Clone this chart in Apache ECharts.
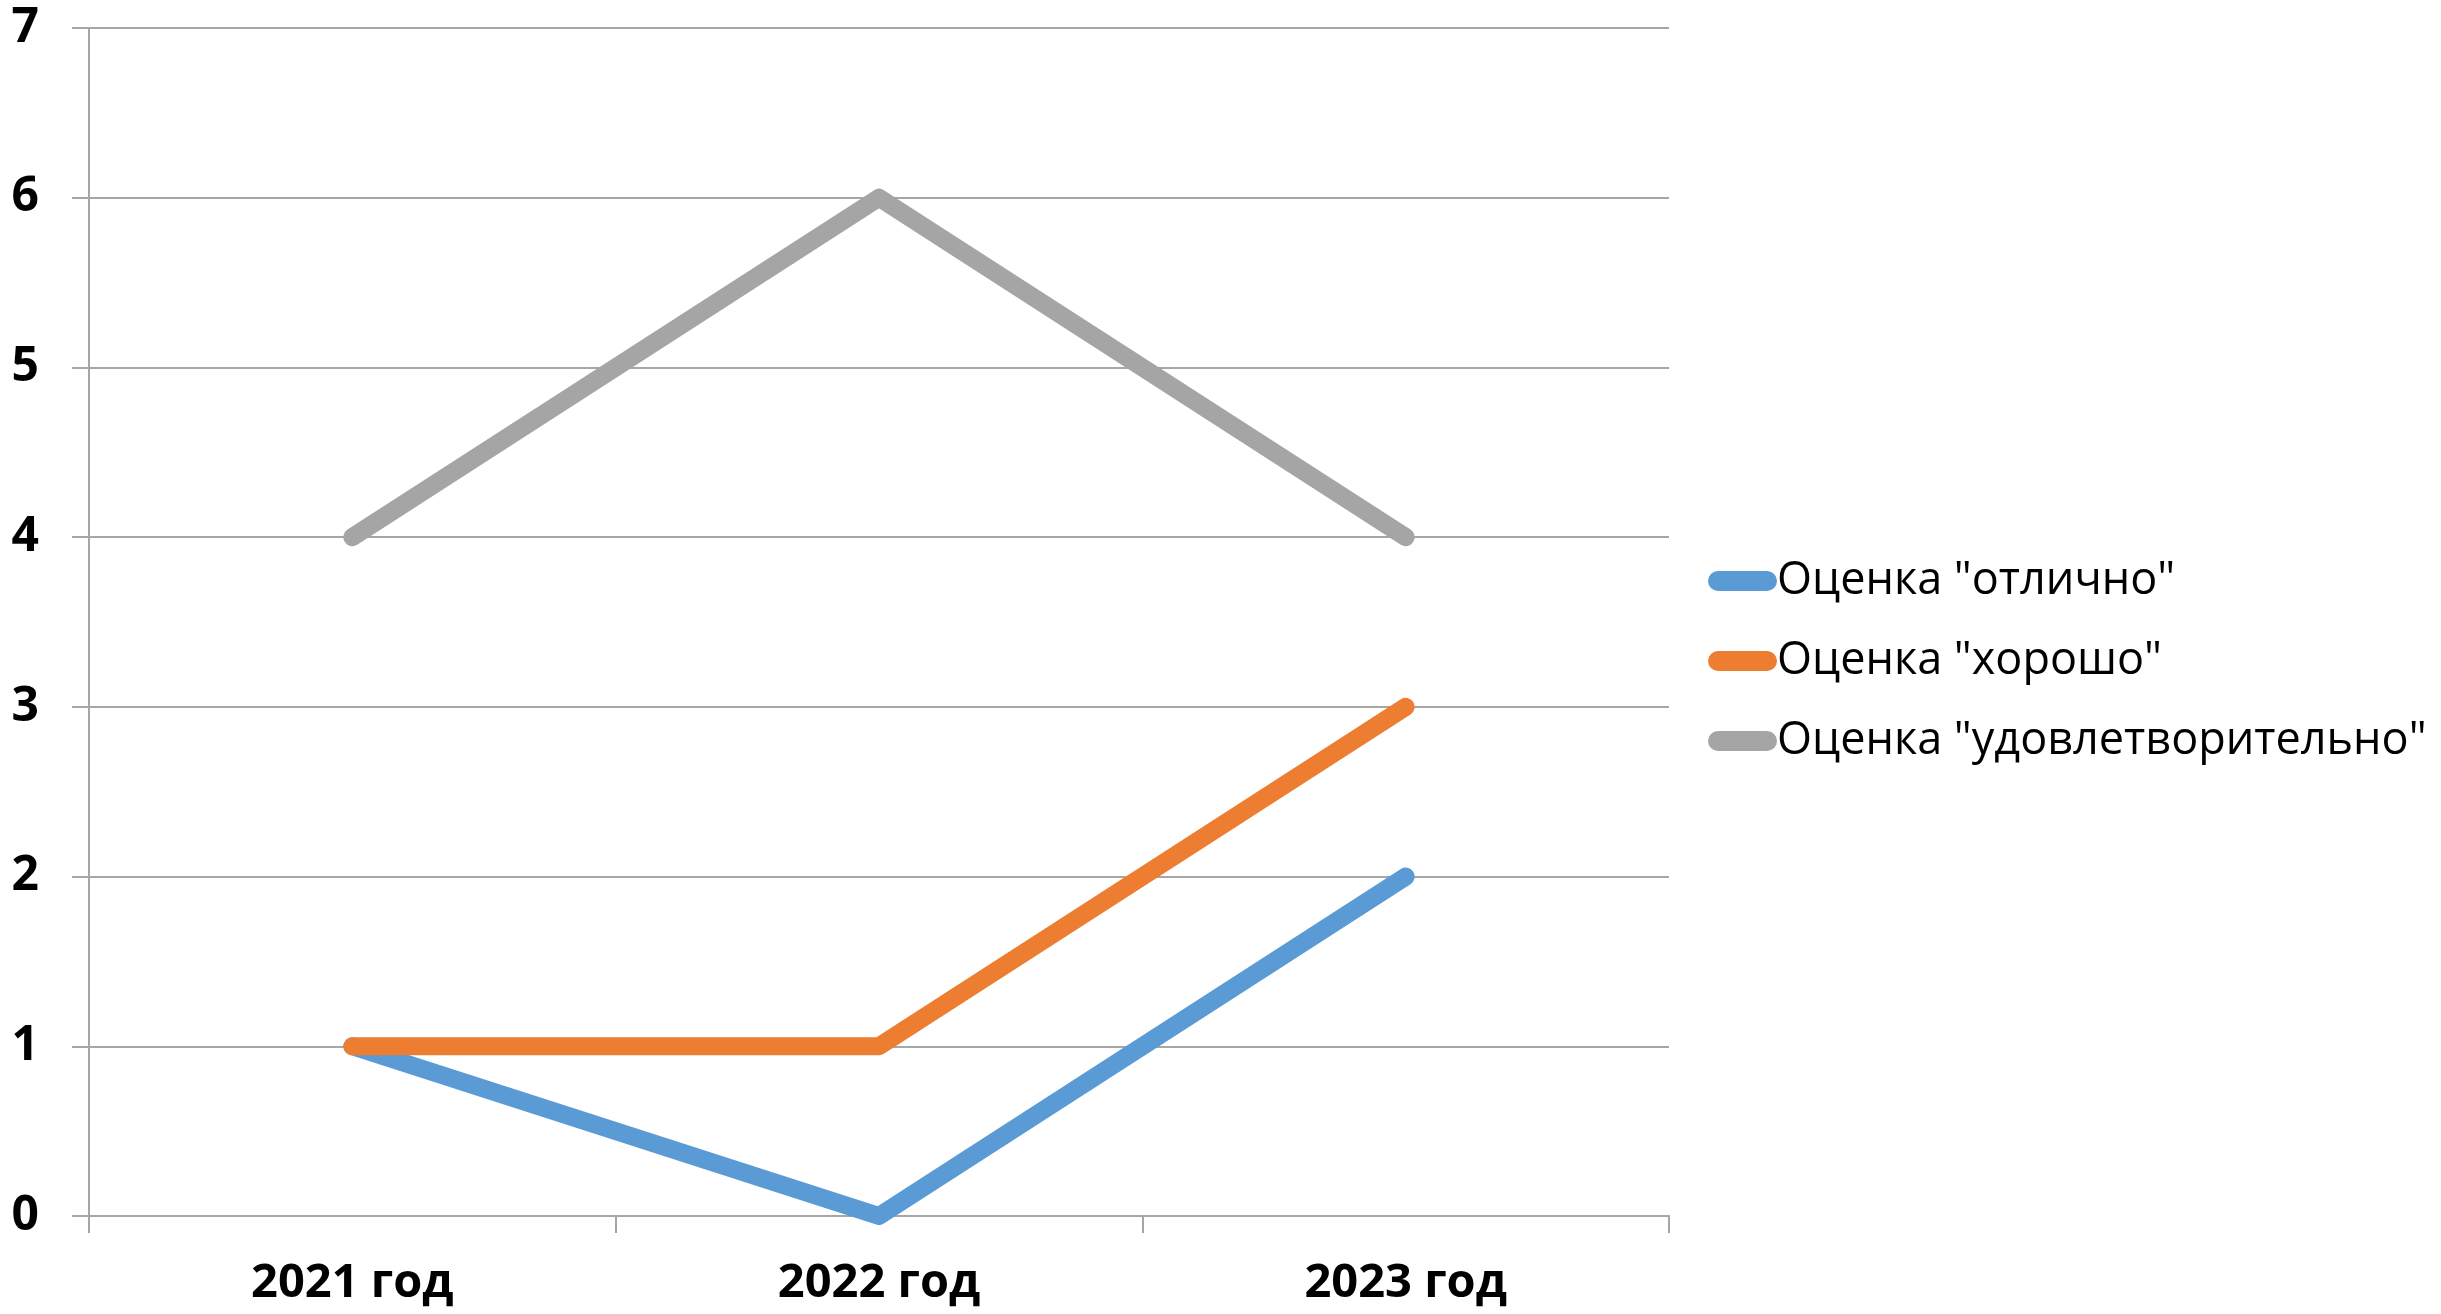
<!DOCTYPE html>
<html><head><meta charset="utf-8">
<script src="https://cdn.jsdelivr.net/npm/echarts@6/dist/echarts.min.js"></script>
<style>html,body{margin:0;padding:0;background:#fff}#c{width:2441px;height:1314px}</style>
</head><body><div id="c"></div>
<script>
const categories = ['2021 год', '2022 год', '2023 год'];
const seriesNames = ['Оценка "отлично"', 'Оценка "хорошо"', 'Оценка "удовлетворительно"'];
const excellent = [1, 0, 2];
const good = [1, 1, 3];
const satisfactory = [4, 6, 4];
const colors = ['#5B9BD5', '#ED7D31', '#A5A5A5'];

const chart = echarts.init(document.getElementById('c'));
const mk = (name, data, color) => ({
  name, type: 'line', data, showSymbol: false, symbol: 'none',
  itemStyle: {color},
  lineStyle: {color, width: 18, cap: 'round', join: 'round'},
  animation: false
});
chart.setOption({
  animation: false,
  grid: {left: 89, right: 772, top: 28, bottom: 98},
  legend: {
    orient: 'vertical', left: 1703, top: 551, itemGap: 30,
    itemWidth: 69, itemHeight: 20,
    icon: 'path://M10,0 L59,0 A10,10 0 0 1 59,20 L10,20 A10,10 0 0 1 10,0 Z',
    data: seriesNames,
    textStyle: {fontFamily: 'Open Sans', fontSize: 45, color: '#000', lineHeight: 50, padding: [0,0,0,-5]}
  },
  xAxis: {
    type: 'category', data: categories, boundaryGap: true,
    axisLine: {lineStyle: {color: '#a6a6a6', width: 2}},
    axisTick: {show: true, length: 17, lineStyle: {color: '#a6a6a6', width: 2}},
    axisLabel: {fontFamily: 'Open Sans', fontWeight: 'bold', fontSize: 47, color: '#000', margin: 44}
  },
  yAxis: {
    type: 'value', min: 0, max: 7, interval: 1,
    axisLine: {show: true, lineStyle: {color: '#a6a6a6', width: 2}},
    axisTick: {show: true, length: 17, lineStyle: {color: '#a6a6a6', width: 2}},
    splitLine: {lineStyle: {color: '#a6a6a6', width: 2}},
    axisLabel: {fontFamily: 'Open Sans', fontWeight: 'bold', fontSize: 48, color: '#000', margin: 50}
  },
  series: [mk(seriesNames[0], excellent, colors[0]), mk(seriesNames[1], good, colors[1]), mk(seriesNames[2], satisfactory, colors[2])]
});
</script></body></html>
